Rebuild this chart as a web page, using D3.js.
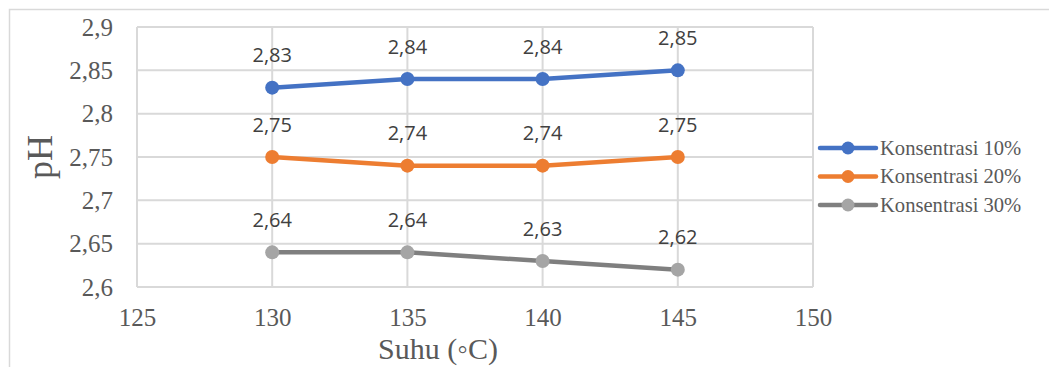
<!DOCTYPE html>
<html>
<head>
<meta charset="utf-8">
<script src="https://cdn.jsdelivr.net/npm/d3@7/dist/d3.min.js"></script>
<style>
  html, body { margin: 0; padding: 0; background: #ffffff; }
  svg { display: block; }
</style>
</head>
<body>
<svg id="chart" width="1049" height="367"></svg>
<script>
// Temperatures (°C) on the x axis
const suhu = [130, 135, 140, 145];

// pH for each concentration
const konsentrasi10 = [2.83, 2.84, 2.84, 2.85];
const konsentrasi20 = [2.75, 2.74, 2.74, 2.75];
const konsentrasi30 = [2.64, 2.64, 2.63, 2.62];

const seriesNames = ["Konsentrasi 10%", "Konsentrasi 20%", "Konsentrasi 30%"];

// Axis ticks
const xTicks = [125, 130, 135, 140, 145, 150];
const yTicks = [2.6, 2.65, 2.7, 2.75, 2.8, 2.85, 2.9];

const series = [
  { name: seriesNames[0], values: konsentrasi10, line: "#4472C4", dot: "#4472C4" },
  { name: seriesNames[1], values: konsentrasi20, line: "#ED7D31", dot: "#ED7D31" },
  { name: seriesNames[2], values: konsentrasi30, line: "#7F7F7F", dot: "#A5A5A5" }
];

const svg = d3.select("#chart");
const plot = { left: 137, right: 813, top: 27, bottom: 287 };

const x = d3.scaleLinear().domain([125, 150]).range([plot.left, plot.right]);
const y = d3.scaleLinear().domain([2.6, 2.9]).range([plot.bottom, plot.top]);

const fmt = v => String(+v.toFixed(2)).replace(".", ",");
const serif = "'Liberation Serif', 'Times New Roman', serif";

// Chart frame
svg.append("path")
  .attr("d", "M9.5,367 L9.5,9.5 L1049,9.5")
  .attr("fill", "none")
  .attr("stroke", "#D9D9D9")
  .attr("stroke-width", 1.5);

// Gridlines
const grid = svg.append("g").attr("stroke", "#D9D9D9").attr("stroke-width", 2);
grid.selectAll("line.h").data(yTicks).join("line")
  .attr("class", "h")
  .attr("x1", plot.left).attr("x2", plot.right)
  .attr("y1", d => y(d)).attr("y2", d => y(d));
grid.selectAll("line.v").data(xTicks).join("line")
  .attr("class", "v")
  .attr("y1", plot.top).attr("y2", plot.bottom)
  .attr("x1", d => x(d)).attr("x2", d => x(d));

// Y axis labels
const yAxis = svg.append("g")
  .attr("transform", `translate(${plot.left},0)`)
  .call(d3.axisLeft(y).tickValues(yTicks).tickFormat(fmt).tickSize(0).tickPadding(24));
yAxis.select(".domain").remove();
yAxis.selectAll("text")
  .attr("font-family", serif)
  .attr("font-size", 25)
  .attr("fill", "#595959")
  .attr("dy", "0.33em");

// X axis labels
const xAxis = svg.append("g")
  .attr("transform", `translate(0,${plot.bottom})`)
  .call(d3.axisBottom(x).tickValues(xTicks).tickFormat(d3.format("d")).tickSize(0).tickPadding(22));
xAxis.select(".domain").remove();
xAxis.selectAll("text")
  .attr("font-family", serif)
  .attr("font-size", 25)
  .attr("fill", "#595959")
  .attr("dy", "0.68em");

// Axis titles
svg.append("text")
  .attr("transform", "translate(52,157) rotate(-90)")
  .attr("text-anchor", "middle")
  .attr("font-family", serif)
  .attr("font-size", 36)
  .attr("fill", "#595959")
  .text("pH");

svg.append("text")
  .attr("x", 438).attr("y", 359)
  .attr("text-anchor", "middle")
  .attr("font-family", serif)
  .attr("font-size", 30)
  .attr("fill", "#595959")
  .text("Suhu (\u25E6C)");

// Lines, markers and value labels
const line = d3.line().x((d, i) => x(suhu[i])).y(d => y(d));
series.forEach(s => {
  const g = svg.append("g");
  g.append("path")
    .attr("d", line(s.values))
    .attr("fill", "none")
    .attr("stroke", s.line)
    .attr("stroke-width", 4.5)
    .attr("stroke-linejoin", "round");
  g.selectAll("circle").data(s.values).join("circle")
    .attr("cx", (d, i) => x(suhu[i]))
    .attr("cy", d => y(d))
    .attr("r", 7)
    .attr("fill", s.dot);
  g.selectAll("text").data(s.values).join("text")
    .attr("x", (d, i) => x(suhu[i]))
    .attr("y", d => y(d) - 25.5)
    .attr("text-anchor", "middle")
    .attr("font-family", "'Open Sans', sans-serif")
    .attr("font-size", 20)
    .attr("fill", "#404040")
    .text(d => fmt(d));
});

// Legend
const legend = svg.append("g").attr("transform", "translate(820,148)");
series.forEach((s, i) => {
  const row = legend.append("g").attr("transform", `translate(0,${i * 28.5})`);
  row.append("line")
    .attr("x1", 0).attr("x2", 56)
    .attr("stroke", s.line)
    .attr("stroke-width", 4.5)
    .attr("stroke-linecap", "round");
  row.append("circle").attr("cx", 28).attr("r", 6.5).attr("fill", s.dot);
  row.append("text")
    .attr("x", 60).attr("dy", "0.33em")
    .attr("font-family", serif)
    .attr("font-size", 20.6)
    .attr("fill", "#595959")
    .text(s.name);
});
</script>
</body>
</html>
